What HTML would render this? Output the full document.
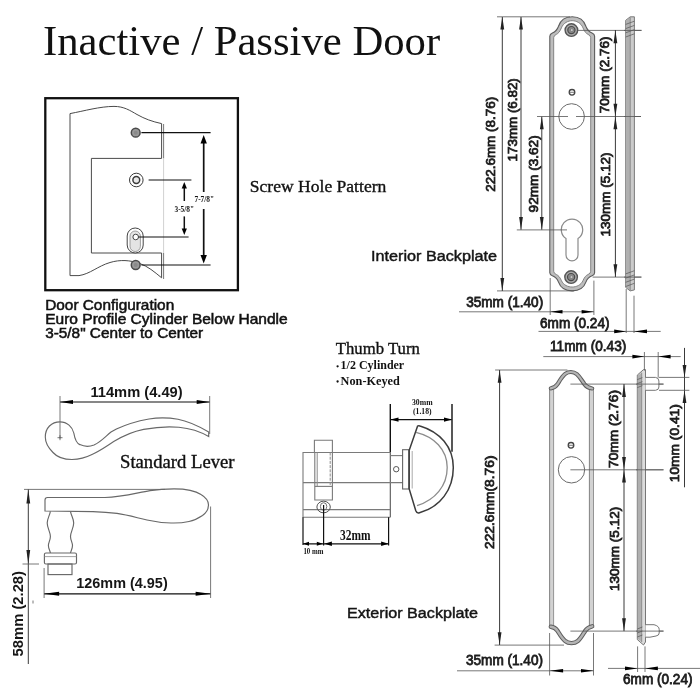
<!DOCTYPE html>
<html><head><meta charset="utf-8">
<style>
html,body{margin:0;padding:0;background:#fff;}
body{width:700px;height:700px;overflow:hidden;}
svg{display:block;filter:blur(0.35px);}
.ser{font-family:"Liberation Serif",serif;fill:#111;}
.sers{font-family:"Liberation Serif",serif;fill:#111;stroke:#111;stroke-width:0.35;}
.serb{font-family:"Liberation Serif",serif;fill:#111;font-weight:bold;}
.san{font-family:"Liberation Sans",sans-serif;fill:#1c1c1c;stroke:#1c1c1c;stroke-width:0.8;}
.sanh{font-family:"Liberation Sans",sans-serif;fill:#111;stroke:#111;stroke-width:0.5;}
.sanm{font-family:"Liberation Sans",sans-serif;fill:#151515;stroke:#151515;stroke-width:0.45;}
.sanb{font-family:"Liberation Sans",sans-serif;font-weight:bold;fill:#161616;}
.ln{stroke:#3a3a3a;stroke-width:1;fill:none;}
.thin{stroke:#555;stroke-width:0.8;fill:none;}
.blk{stroke:#111;stroke-width:1.2;fill:none;}
.pl{stroke:#6e6e6e;stroke-width:1.1;fill:none;}
.pl2{stroke:#8a8a8a;stroke-width:1;fill:none;}
.ar{fill:#222;stroke:none;}
.arb{fill:#000;stroke:none;}
</style></head><body>
<svg width="700" height="700" viewBox="0 0 700 700">
<rect width="700" height="700" fill="#fff"/>
<text class="ser" x="43.0" y="55.0" font-size="42.7" text-anchor="start" >Inactive / Passive Door</text>
<rect x="45.3" y="98.2" width="192.6" height="192" fill="none" stroke="#111" stroke-width="2.3"/>
<path d="M70,113.6 L70,275.6 L79,275.6 C90,274 98,266 110,262.5 C120,259.5 130,260 140,263.6 C148,266.5 154,271.5 161.6,277.8 L161.6,253 L91.4,253 L91.4,158.4 L161.6,158.4 L161.6,123.6 C152,121.5 145,119 137,114.5 C130,110.5 124,106.4 114,106.4 C100,106.4 84,111 70,113.6 Z" fill="none" stroke="#4a4a4a" stroke-width="1"/>
<line class="thin" x1="163.6" y1="124.0" x2="163.6" y2="158.4" />
<line class="thin" x1="163.6" y1="253.0" x2="163.6" y2="279.0" />
<line class="thin" x1="163.6" y1="158.4" x2="163.6" y2="253.0" style="stroke:#c4c4c4"/>
<circle cx="135.7" cy="132.7" r="4.4" fill="#9a9a9a" stroke="#4a4a4a" stroke-width="1.5"/>
<circle cx="135.7" cy="132.7" r="2" fill="#8a8a8a"/>
<circle cx="135.7" cy="265" r="4.4" fill="#9a9a9a" stroke="#4a4a4a" stroke-width="1.5"/>
<circle cx="135.7" cy="265" r="2" fill="#8a8a8a"/>
<circle cx="136.3" cy="180" r="6.8" fill="#fff" stroke="#3a3a3a" stroke-width="1"/>
<circle cx="136.3" cy="180" r="3.4" fill="#e8e8e8" stroke="#3a3a3a" stroke-width="1.5"/>
<rect x="127.2" y="228" width="16" height="25" rx="8" fill="#fff" stroke="#444" stroke-width="1"/>
<rect x="130" y="231" width="10.4" height="20.5" rx="5.2" fill="#e4e4e4" stroke="#888" stroke-width="0.8"/>
<circle cx="135.7" cy="237" r="2.8" fill="#fff" stroke="#444" stroke-width="1"/>
<line class="blk" x1="141.4" y1="132.7" x2="210.6" y2="132.7" />
<line class="blk" x1="141.4" y1="265.0" x2="210.6" y2="265.0" />
<line class="blk" x1="148.6" y1="180.0" x2="191.4" y2="180.0" />
<line class="blk" x1="138.6" y1="237.0" x2="188.6" y2="237.0" />
<line class="blk" x1="203.7" y1="141.0" x2="203.7" y2="192.0" style="stroke-width:1.7"/>
<line class="blk" x1="203.7" y1="209.0" x2="203.7" y2="258.0" style="stroke-width:1.7"/>
<polygon class="arb" points="203.7,135.0 200.5,143.5 206.9,143.5"/>
<polygon class="arb" points="203.7,263.6 200.5,255.1 206.9,255.1"/>
<line class="blk" x1="184.3" y1="187.0" x2="184.3" y2="201.0" style="stroke-width:1.5"/>
<line class="blk" x1="184.3" y1="216.4" x2="184.3" y2="230.0" style="stroke-width:1.5"/>
<polygon class="arb" points="184.3,182.0 181.7,188.5 186.9,188.5"/>
<polygon class="arb" points="184.3,235.0 181.7,228.5 186.9,228.5"/>
<text class="serb" x="204.3" y="202.0" font-size="7.4" text-anchor="middle" >7-7/8"</text>
<text class="serb" x="184.3" y="212.0" font-size="7.4" text-anchor="middle" >3-5/8"</text>
<text class="sers" x="249.8" y="192.4" font-size="17.3" text-anchor="start"  textLength="136.5" lengthAdjust="spacingAndGlyphs">Screw Hole Pattern</text>
<text class="sanh" x="45.2" y="310.3" font-size="14.2" text-anchor="start"  textLength="129.0" lengthAdjust="spacingAndGlyphs">Door Configuration</text>
<text class="sanh" x="45.2" y="323.6" font-size="14.2" text-anchor="start"  textLength="242.5" lengthAdjust="spacingAndGlyphs">Euro Profile Cylinder Below Handle</text>
<text class="sanh" x="45.2" y="337.5" font-size="14.2" text-anchor="start"  textLength="158.0" lengthAdjust="spacingAndGlyphs">3-5/8" Center to Center</text>
<text class="sanm" x="371.0" y="261.4" font-size="15.5" text-anchor="start"  textLength="126.0" lengthAdjust="spacingAndGlyphs">Interior Backplate</text>
<text class="sanm" x="347.0" y="617.5" font-size="15.5" text-anchor="start"  textLength="131.0" lengthAdjust="spacingAndGlyphs">Exterior Backplate</text>
<text class="sers" x="120.0" y="467.5" font-size="17.8" text-anchor="start"  textLength="114.5" lengthAdjust="spacingAndGlyphs">Standard Lever</text>
<text class="sers" x="335.8" y="353.5" font-size="16.4" text-anchor="start"  textLength="84.0" lengthAdjust="spacingAndGlyphs">Thumb Turn</text>
<circle cx="337.6" cy="366.3" r="1.15" fill="#111"/>
<text class="serb" x="340.6" y="369.3" font-size="11.8" text-anchor="start"  textLength="63.6" lengthAdjust="spacingAndGlyphs">1/2 Cylinder</text>
<circle cx="337.6" cy="381.5" r="1.15" fill="#111"/>
<text class="serb" x="340.6" y="384.7" font-size="11.8" text-anchor="start"  textLength="59.2" lengthAdjust="spacingAndGlyphs">Non-Keyed</text>
<path d="M549.8,36.2 Q549.8,34.2 552.4,33.0 C555.0,32.0 557.0,30.4 558.4,26.5 C560.0,21.5 564.3,16.8 572.2,16.8 C580.1,16.8 584.4,21.5 586.0,26.5 C587.4,30.4 589.4,32.0 592.0,33.0 Q594.6,34.2 594.6,36.2 L594.6,272.7 Q594.6,274.7 592.0,275.8 C589.4,276.8 587.4,278.2 586.0,281.9 C584.4,286.5 580.1,290.9 572.2,290.9 C564.3,290.9 560.0,286.5 558.4,281.9 C557.0,278.2 555.0,276.8 552.4,275.8 Q549.8,274.7 549.8,272.7 Z M553.7,37.6 Q553.7,35.6 556.3,34.4 C558.3,33.4 559.8,31.8 561.4,27.9 C563.3,22.9 568.2,20.7 572.2,20.7 C576.2,20.7 581.1,22.9 583.0,27.9 C584.6,31.8 586.1,33.4 588.1,34.4 Q590.7,35.6 590.7,37.6 L590.7,271.3 Q590.7,273.3 588.1,274.5 C586.1,275.4 584.6,276.9 583.0,280.5 C581.1,285.2 576.2,287.0 572.2,287.0 C568.2,287.0 563.3,285.2 561.4,280.5 C559.8,276.9 558.3,275.4 556.3,274.5 Q553.7,273.3 553.7,271.3 Z" fill="#bdbdbd" fill-rule="evenodd" stroke="none"/>
<path d="M549.8,36.2 Q549.8,34.2 552.4,33.0 C555.0,32.0 557.0,30.4 558.4,26.5 C560.0,21.5 564.3,16.8 572.2,16.8 C580.1,16.8 584.4,21.5 586.0,26.5 C587.4,30.4 589.4,32.0 592.0,33.0 Q594.6,34.2 594.6,36.2 L594.6,272.7 Q594.6,274.7 592.0,275.8 C589.4,276.8 587.4,278.2 586.0,281.9 C584.4,286.5 580.1,290.9 572.2,290.9 C564.3,290.9 560.0,286.5 558.4,281.9 C557.0,278.2 555.0,276.8 552.4,275.8 Q549.8,274.7 549.8,272.7 Z" fill="none" stroke="#5c5c5c" stroke-width="1.1"/>
<path d="M553.7,37.6 Q553.7,35.6 556.3,34.4 C558.3,33.4 559.8,31.8 561.4,27.9 C563.3,22.9 568.2,20.7 572.2,20.7 C576.2,20.7 581.1,22.9 583.0,27.9 C584.6,31.8 586.1,33.4 588.1,34.4 Q590.7,35.6 590.7,37.6 L590.7,271.3 Q590.7,273.3 588.1,274.5 C586.1,275.4 584.6,276.9 583.0,280.5 C581.1,285.2 576.2,287.0 572.2,287.0 C568.2,287.0 563.3,285.2 561.4,280.5 C559.8,276.9 558.3,275.4 556.3,274.5 Q553.7,273.3 553.7,271.3 Z" fill="none" stroke="#7a7a7a" stroke-width="0.9"/>
<circle cx="571.4" cy="30.1" r="6.3" fill="#a9a9a9" stroke="#555" stroke-width="1.4"/>
<circle cx="571.4" cy="30.1" r="3.6" fill="#8c8c8c" stroke="#4a4a4a" stroke-width="1.2"/>
<circle cx="571.8" cy="30.1" r="1.5" fill="#c8c8c8" stroke="#666" stroke-width="0.6"/>
<circle cx="571.1" cy="277.1" r="6.3" fill="#a9a9a9" stroke="#555" stroke-width="1.4"/>
<circle cx="571.1" cy="277.1" r="3.6" fill="#8c8c8c" stroke="#4a4a4a" stroke-width="1.2"/>
<circle cx="571.5" cy="277.1" r="1.5" fill="#c8c8c8" stroke="#666" stroke-width="0.6"/>
<circle cx="572" cy="92.3" r="2.8" fill="#fff" stroke="#444" stroke-width="1.3"/>
<line class="thin" x1="569.8" y1="92.3" x2="574.2" y2="92.3" />
<circle cx="571.6" cy="116.5" r="12.8" fill="#fff" stroke="#6a6a6a" stroke-width="1"/>
<path d="M566,238.6 A10.7,10.7 0 1 1 578,238.6 L578,254.9 A6,6 0 0 1 566,254.9 Z" fill="#fff" stroke="#8a8a8a" stroke-width="1.2"/>
<line class="thin" x1="497.0" y1="16.8" x2="570.0" y2="16.8" />
<line class="thin" x1="497.0" y1="290.9" x2="574.0" y2="290.9" />
<line class="ln" x1="502.3" y1="17.0" x2="502.3" y2="291.0" />
<polygon class="ar" points="502.3,16.8 500.4,29.6 504.2,29.6"/>
<polygon class="ar" points="502.3,290.9 500.4,278.1 504.2,278.1"/>
<line class="ln" x1="521.0" y1="17.0" x2="521.0" y2="229.8" />
<polygon class="ar" points="521.0,16.8 519.1,29.6 522.9,29.6"/>
<polygon class="ar" points="521.0,229.8 519.1,217.0 522.9,217.0"/>
<line class="ln" x1="541.8" y1="116.5" x2="541.8" y2="229.8" />
<polygon class="ar" points="541.8,116.5 539.9,129.3 543.7,129.3"/>
<polygon class="ar" points="541.8,229.8 539.9,217.0 543.7,217.0"/>
<line class="thin" x1="537.0" y1="116.5" x2="568.0" y2="116.5" />
<line class="thin" x1="576.0" y1="116.5" x2="641.0" y2="116.5" />
<line class="thin" x1="516.8" y1="229.9" x2="567.0" y2="229.9" />
<line class="thin" x1="577.0" y1="30.4" x2="641.5" y2="30.4" />
<line class="thin" x1="592.6" y1="277.1" x2="641.4" y2="277.1" />
<line class="ln" x1="615.4" y1="30.0" x2="615.4" y2="277.0" />
<polygon class="ar" points="615.4,30.4 613.5,43.2 617.3,43.2"/>
<polygon class="ar" points="615.4,116.5 613.5,103.7 617.3,103.7"/>
<polygon class="ar" points="615.4,116.5 613.5,129.3 617.3,129.3"/>
<polygon class="ar" points="615.4,277.1 613.5,264.3 617.3,264.3"/>
<text class="san" transform="translate(495.4,191.8) rotate(-90)" font-size="13.4" textLength="95.0" lengthAdjust="spacingAndGlyphs" >222.6mm (8.76)</text>
<text class="san" transform="translate(517.4,161.4) rotate(-90)" font-size="13.4" textLength="83.2" lengthAdjust="spacingAndGlyphs" >173mm (6.82)</text>
<text class="san" transform="translate(537.6,212.4) rotate(-90)" font-size="13.4" textLength="77.1" lengthAdjust="spacingAndGlyphs" >92mm (3.62)</text>
<text class="san" transform="translate(609.3,113.2) rotate(-90)" font-size="13.4" textLength="76.7" lengthAdjust="spacingAndGlyphs" >70mm (2.76)</text>
<text class="san" transform="translate(609.7,236.4) rotate(-90)" font-size="13.4" textLength="83.9" lengthAdjust="spacingAndGlyphs" >130mm (5.12)</text>
<path d="M625.7,20.3 L630.2,16.8 L634.4,16.8 L634.4,289.9 L630.2,290.9 L625.7,287.4 Z" fill="#cbcbcb" stroke="#6e6e6e" stroke-width="0.9"/>
<path d="M626.2,20.8 L629.7,17.8 L629.7,289.9 L626.2,286.9 Z" fill="#b0b0b0" stroke="none"/>
<line class="thin" x1="630.2" y1="17.3" x2="630.2" y2="290.4" style="stroke:#777"/>
<line class="thin" x1="625.7" y1="24.4" x2="634.4" y2="21.2" style="stroke:#555;stroke-width:0.7"/>
<line class="thin" x1="625.7" y1="286.5" x2="634.4" y2="283.3" style="stroke:#555;stroke-width:0.7"/>
<line class="thin" x1="625.7" y1="28.6" x2="634.4" y2="25.4" style="stroke:#555;stroke-width:0.7"/>
<line class="thin" x1="625.7" y1="282.3" x2="634.4" y2="279.1" style="stroke:#555;stroke-width:0.7"/>
<line class="thin" x1="625.7" y1="32.8" x2="634.4" y2="29.6" style="stroke:#555;stroke-width:0.7"/>
<line class="thin" x1="625.7" y1="278.1" x2="634.4" y2="274.9" style="stroke:#555;stroke-width:0.7"/>
<line class="thin" x1="625.7" y1="37.0" x2="634.4" y2="33.8" style="stroke:#555;stroke-width:0.7"/>
<line class="thin" x1="625.7" y1="273.9" x2="634.4" y2="270.7" style="stroke:#555;stroke-width:0.7"/>
<line class="thin" x1="626.2" y1="289.0" x2="626.2" y2="333.0" />
<line class="thin" x1="634.0" y1="295.7" x2="634.0" y2="333.0" />
<line class="thin" x1="624.0" y1="30.4" x2="641.5" y2="30.4" />
<line class="thin" x1="624.0" y1="277.1" x2="641.4" y2="277.1" />
<line class="thin" x1="624.0" y1="116.5" x2="641.0" y2="116.5" />
<line class="thin" x1="459.0" y1="311.8" x2="594.0" y2="311.8" />
<line class="thin" x1="550.2" y1="278.0" x2="550.2" y2="315.0" />
<line class="thin" x1="593.9" y1="280.6" x2="593.9" y2="315.0" />
<polygon class="arb" points="550.2,311.8 562.5,310.0 562.5,313.6"/>
<polygon class="arb" points="593.9,311.8 581.6,310.0 581.6,313.6"/>
<text class="san" x="466.2" y="306.6" font-size="14" text-anchor="start"  textLength="77.0" lengthAdjust="spacingAndGlyphs">35mm (1.40)</text>
<line class="thin" x1="538.5" y1="331.4" x2="660.7" y2="331.4" />
<polygon class="arb" points="626.2,331.4 614.2,329.5 614.2,333.3"/>
<polygon class="arb" points="634.0,331.4 647.0,329.5 647.0,333.3"/>
<text class="san" x="540.0" y="327.5" font-size="14" text-anchor="start"  textLength="69.5" lengthAdjust="spacingAndGlyphs">6mm (0.24)</text>
<rect x="549.6" y="388.5" width="4.0" height="237" fill="#d2d2d2" stroke="none"/>
<line class="thin" x1="549.6" y1="388.5" x2="549.6" y2="625.5" style="stroke:#777;stroke-width:0.9"/>
<line class="thin" x1="553.6" y1="388.5" x2="553.6" y2="625.5" style="stroke:#8a8a8a;stroke-width:0.9"/>
<rect x="589.4" y="388.5" width="4.1" height="237" fill="#d2d2d2" stroke="none"/>
<line class="thin" x1="589.4" y1="388.5" x2="589.4" y2="625.5" style="stroke:#777;stroke-width:0.9"/>
<line class="thin" x1="593.5" y1="388.5" x2="593.5" y2="625.5" style="stroke:#8a8a8a;stroke-width:0.9"/>
<path d="M550.8,388.3 C553.5,388 555.8,386.8 557.5,384.2 C560,380.2 562.2,376.2 565.2,373.9 C567,372.5 569,372 570.9,372 C573,372 575,372.6 576.8,374.1 C580,376.8 582,380.8 584.5,384.2 C586.2,386.6 588.8,388 592.2,388.5" fill="none" stroke="#5e5e5e" stroke-width="4.2" stroke-linecap="round"/>
<path d="M550.8,388.3 C553.5,388 555.8,386.8 557.5,384.2 C560,380.2 562.2,376.2 565.2,373.9 C567,372.5 569,372 570.9,372 C573,372 575,372.6 576.8,374.1 C580,376.8 582,380.8 584.5,384.2 C586.2,386.6 588.8,388 592.2,388.5" fill="none" stroke="#b4b4b4" stroke-width="2.2" stroke-linecap="round"/>
<path d="M550.8,626.7 C553.5,627 555.8,628.2 557.5,630.8 C560,634.8 562.2,638.8 565.2,641 C567,642.5 569.3,643.1 571.5,643.1 C573.8,643.1 576,642.5 577.8,641 C581,638.3 583,634.3 585.2,630.8 C586.8,628.4 589,627 592.2,626.3" fill="none" stroke="#5e5e5e" stroke-width="4.4" stroke-linecap="round"/>
<path d="M550.8,626.7 C553.5,627 555.8,628.2 557.5,630.8 C560,634.8 562.2,638.8 565.2,641 C567,642.5 569.3,643.1 571.5,643.1 C573.8,643.1 576,642.5 577.8,641 C581,638.3 583,634.3 585.2,630.8 C586.8,628.4 589,627 592.2,626.3" fill="none" stroke="#b4b4b4" stroke-width="2.4" stroke-linecap="round"/>
<circle cx="571" cy="445.3" r="2.8" fill="#fff" stroke="#444" stroke-width="1.3"/>
<line class="thin" x1="568.8" y1="445.3" x2="573.2" y2="445.3" />
<circle cx="571.5" cy="469.8" r="13.2" fill="#fff" stroke="#6a6a6a" stroke-width="1"/>
<line class="thin" x1="495.1" y1="370.0" x2="567.4" y2="370.0" />
<line class="thin" x1="494.6" y1="645.1" x2="564.0" y2="645.1" />
<line class="ln" x1="499.6" y1="370.0" x2="499.6" y2="645.0" />
<polygon class="ar" points="499.6,370.0 497.7,382.8 501.5,382.8"/>
<polygon class="ar" points="499.6,645.1 497.7,632.3 501.5,632.3"/>
<text class="san" transform="translate(493.7,549.0) rotate(-90)" font-size="13.4" textLength="93.5" lengthAdjust="spacingAndGlyphs" >222.6mm(8.76)</text>
<line class="thin" x1="570.4" y1="384.1" x2="663.5" y2="384.1" />
<line class="thin" x1="570.4" y1="469.8" x2="663.5" y2="469.8" />
<line class="thin" x1="570.4" y1="631.1" x2="663.5" y2="631.1" />
<line class="ln" x1="624.0" y1="384.0" x2="624.0" y2="631.1" />
<polygon class="ar" points="624.0,384.1 622.1,396.9 625.9,396.9"/>
<polygon class="ar" points="624.0,469.8 622.1,457.0 625.9,457.0"/>
<polygon class="ar" points="624.0,469.8 622.1,482.6 625.9,482.6"/>
<polygon class="ar" points="624.0,631.1 622.1,618.3 625.9,618.3"/>
<text class="san" transform="translate(618.2,468.0) rotate(-90)" font-size="13.4" textLength="78.0" lengthAdjust="spacingAndGlyphs" >70mm (2.76)</text>
<text class="san" transform="translate(618.5,591.0) rotate(-90)" font-size="13.4" textLength="84.2" lengthAdjust="spacingAndGlyphs" >130mm (5.12)</text>
<path d="M637.3,375.1 L643.5,369.6 L645.5,369.6 L645.5,642.0 L643.5,645.0 L637.3,639.5 Z" fill="#dcdcdc" stroke="#6a6a6a" stroke-width="0.9"/>
<path d="M637.8,375.6 L641.4,373.1 L641.4,641.5 L637.8,639.0 Z" fill="#b0b0b0" stroke="none"/>
<line class="thin" x1="641.7" y1="372.6" x2="641.7" y2="642.0" style="stroke:#777;stroke-width:0.8"/>
<line class="thin" x1="637.3" y1="379.6" x2="642.4" y2="377.6" style="stroke:#555;stroke-width:0.7"/>
<line class="thin" x1="637.3" y1="637.0" x2="642.4" y2="635.0" style="stroke:#555;stroke-width:0.7"/>
<line class="thin" x1="637.3" y1="383.6" x2="642.4" y2="381.6" style="stroke:#555;stroke-width:0.7"/>
<line class="thin" x1="637.3" y1="633.0" x2="642.4" y2="631.0" style="stroke:#555;stroke-width:0.7"/>
<line class="thin" x1="637.3" y1="387.6" x2="642.4" y2="385.6" style="stroke:#555;stroke-width:0.7"/>
<line class="thin" x1="637.3" y1="629.0" x2="642.4" y2="627.0" style="stroke:#555;stroke-width:0.7"/>
<path d="M645.5,377.4 L655.5,377.4 Q658.9,377.8 658.9,381 L658.9,387 Q658.9,390 655.5,390.3 L645.5,390.3" fill="#fff" stroke="#666" stroke-width="0.9"/>
<path d="M645.5,624.7 L654,624.7 Q659.2,626 659.2,629.5 L659.2,633 Q659.2,635.5 656,636 L650,637.2 L645.5,637.2" fill="#fff" stroke="#666" stroke-width="0.9"/>
<line class="thin" x1="636.0" y1="384.1" x2="663.5" y2="384.1" />
<line class="thin" x1="636.0" y1="631.1" x2="663.5" y2="631.1" />
<line class="thin" x1="636.0" y1="469.8" x2="663.5" y2="469.8" />
<text class="san" x="550.0" y="351.2" font-size="14" text-anchor="start"  textLength="76.3" lengthAdjust="spacingAndGlyphs">11mm (0.43)</text>
<line class="thin" x1="543.3" y1="356.6" x2="680.7" y2="356.6" />
<line class="thin" x1="644.4" y1="352.0" x2="644.4" y2="370.6" />
<line class="thin" x1="658.2" y1="352.0" x2="658.2" y2="377.7" />
<polygon class="arb" points="644.4,356.6 632.4,354.7 632.4,358.5"/>
<polygon class="arb" points="658.2,356.6 670.6,354.7 670.6,358.5"/>
<line class="ln" x1="684.5" y1="347.9" x2="684.5" y2="487.3" />
<line class="thin" x1="659.0" y1="377.4" x2="689.4" y2="377.4" />
<line class="thin" x1="659.0" y1="390.3" x2="689.4" y2="390.3" />
<polygon class="ar" points="684.5,377.7 682.6,364.9 686.4,364.9"/>
<polygon class="ar" points="684.5,390.2 682.6,403.0 686.4,403.0"/>
<text class="san" transform="translate(678.8,482.2) rotate(-90)" font-size="13.4" textLength="78.0" lengthAdjust="spacingAndGlyphs" >10mm (0.41)</text>
<line class="thin" x1="457.0" y1="670.8" x2="593.5" y2="670.8" />
<line class="thin" x1="549.6" y1="633.0" x2="549.6" y2="675.5" />
<line class="thin" x1="593.5" y1="633.0" x2="593.5" y2="675.5" />
<polygon class="arb" points="549.6,670.8 563.1,669.0 563.1,672.6"/>
<polygon class="arb" points="593.5,670.8 581.0,669.0 581.0,672.6"/>
<text class="san" x="466.0" y="665.3" font-size="14" text-anchor="start"  textLength="77.0" lengthAdjust="spacingAndGlyphs">35mm (1.40)</text>
<line class="thin" x1="608.0" y1="668.4" x2="700.0" y2="668.4" />
<line class="thin" x1="637.6" y1="646.4" x2="637.6" y2="672.0" />
<line class="thin" x1="645.0" y1="646.4" x2="645.0" y2="672.0" />
<polygon class="arb" points="637.6,668.4 625.0,666.5 625.0,670.3"/>
<polygon class="arb" points="645.0,668.4 657.9,666.5 657.9,670.3"/>
<text class="san" x="623.0" y="683.8" font-size="14" text-anchor="start"  textLength="69.5" lengthAdjust="spacingAndGlyphs">6mm (0.24)</text>
<line class="blk" x1="390.3" y1="404.0" x2="390.3" y2="452.5" style="stroke-width:1.4"/>
<line class="blk" x1="452.0" y1="404.0" x2="452.0" y2="451.7" style="stroke-width:1.4"/>
<line class="thin" x1="390.3" y1="452.5" x2="390.3" y2="517.3" style="stroke:#555;stroke-width:1.1"/>
<line class="blk" x1="391.0" y1="419.6" x2="451.5" y2="419.6" style="stroke-width:1.3"/>
<polygon class="arb" points="390.5,419.6 398.5,417.5 398.5,421.7"/>
<polygon class="arb" points="452.0,419.6 444.0,417.5 444.0,421.7"/>
<text class="serb" x="422.3" y="405.2" font-size="7.2" text-anchor="middle"  textLength="20.6" lengthAdjust="spacingAndGlyphs">30mm</text>
<text class="serb" x="422.3" y="413.8" font-size="7.2" text-anchor="middle"  textLength="18.5" lengthAdjust="spacingAndGlyphs">(1.18)</text>
<path class="thin" d="M390.3,452.5 L303,452.5 L303,517.3 L390.3,517.3" style="stroke:#7a7a7a;stroke-width:1.1"/>
<line class="thin" x1="303.0" y1="482.6" x2="403.0" y2="482.6" style="stroke:#7a7a7a;stroke-width:1.1"/>
<line class="thin" x1="303.0" y1="509.6" x2="390.0" y2="509.6" style="stroke:#7a7a7a;stroke-width:1.1"/>
<path class="thin" d="M314.4,452.5 L314.4,440.2 L332.4,440.2 L332.4,452.5" style="stroke:#7a7a7a;stroke-width:1.1"/>
<path class="thin" d="M314.8,452.5 L314.8,500 L332.4,500 L332.4,452.5" fill="#fff" style="stroke:#7a7a7a;stroke-width:1.1"/>
<line class="pl2" x1="317.2" y1="452.5" x2="317.2" y2="486.4" />
<line class="pl2" x1="330.2" y1="452.5" x2="330.2" y2="486.4" style="stroke-dasharray:3 1.2"/>
<line class="thin" x1="314.8" y1="486.4" x2="332.4" y2="486.4" style="stroke:#7a7a7a;stroke-width:1.1"/>
<ellipse class="thin" cx="323.6" cy="507" rx="6.7" ry="5.8" style="stroke:#555;stroke-width:1"/>
<ellipse class="thin" cx="323.6" cy="506.5" rx="3.2" ry="3.8" style="stroke:#666;stroke-width:0.9"/>
<line class="blk" x1="323.6" y1="505.0" x2="323.6" y2="545.6" style="stroke-width:1.2"/>
<line class="blk" x1="303.0" y1="517.3" x2="303.0" y2="545.0" style="stroke-width:1.2"/>
<line class="blk" x1="388.6" y1="517.3" x2="388.6" y2="545.6" style="stroke-width:1.2"/>
<line class="blk" x1="303.0" y1="543.8" x2="388.6" y2="543.8" style="stroke-width:1.2"/>
<polygon class="arb" points="303.0,543.8 309.0,541.8 309.0,545.8"/>
<polygon class="arb" points="322.8,543.8 316.8,541.8 316.8,545.8"/>
<polygon class="arb" points="324.4,543.8 331.9,541.6 331.9,546.0"/>
<polygon class="arb" points="388.6,543.8 381.1,541.6 381.1,546.0"/>
<text class="serb" x="355.2" y="539.6" font-size="13.6" text-anchor="middle"  textLength="30.5" lengthAdjust="spacingAndGlyphs">32mm</text>
<text class="serb" x="313.4" y="554.2" font-size="7.2" text-anchor="middle"  textLength="20.0" lengthAdjust="spacingAndGlyphs">10 mm</text>
<path class="thin" d="M390.3,455.6 L403,455.6" style="stroke:#7a7a7a;stroke-width:1.1"/>
<circle class="thin" cx="396.2" cy="469.2" r="2.7" style="stroke:#555;stroke-width:1"/>
<rect class="thin" x="402.6" y="449.7" width="6.2" height="39.3" style="stroke:#666;stroke-width:1.1"/>
<path d="M417.6,426 L409.2,450.3 L409.2,489 L415.8,510.8 Q416.8,513.6 419.5,512.8 C440,507 453.3,490 453.3,467.5 C453.3,447 440,432 420,426 Q418.3,425.4 417.6,426 Z" fill="#fff" stroke="#3c3c3c" stroke-width="1.5"/>
<path d="M416,432.3 C434,436.5 447.2,449.5 447.2,467.5 C447.2,486 435,500 417,505.7" fill="none" stroke="#8c8c8c" stroke-width="1.3"/>
<line class="pl2" x1="412.2" y1="451.0" x2="412.2" y2="488.5" style="stroke:#aaa"/>
<text class="sanb" x="90.4" y="396.9" font-size="14.4" text-anchor="start"  textLength="92.3" lengthAdjust="spacingAndGlyphs">114mm (4.49)</text>
<line class="blk" x1="60.0" y1="402.0" x2="209.7" y2="402.0" />
<line class="thin" x1="60.0" y1="396.0" x2="60.0" y2="438.6" />
<line class="thin" x1="209.7" y1="396.0" x2="209.7" y2="434.0" />
<polygon class="arb" points="60.0,402.0 73.0,400.1 73.0,403.9"/>
<polygon class="arb" points="209.7,402.0 196.7,400.1 196.7,403.9"/>
<path d="M60,421.8 C67,421.8 72.5,427 73.8,433 C75,440 77,443.5 79.8,444.6 C84,446.6 89,447 94,445 C101,442 106,436 111,432 L116.4,429 C125,425 138,421 149,419 C158,417.5 168,417.5 178,419.3 C190,421.5 200,427 208.7,432 L208.7,436.6 C200,431.5 192,428.5 178.9,427.3 C168,426.3 155,427.3 143.6,429.4 C133,431.5 122,436.5 113.7,441.6 C106,446.5 100,451 92,454.5 C86,457.5 80,459.3 72,459.5 C64,459.5 57,457 53,452.5 C48,447.5 45.3,442 45.3,437 C45.3,428 51.5,421.8 60,421.8 Z" fill="none" stroke="#686868" stroke-width="1.15"/>
<line class="thin" x1="57.5" y1="437.7" x2="62.5" y2="437.7" />
<line class="thin" x1="60.0" y1="435.2" x2="60.0" y2="440.2" />
<line class="thin" x1="24.0" y1="489.4" x2="165.0" y2="489.4" />
<line class="ln" x1="28.3" y1="489.4" x2="28.3" y2="664.0" />
<polygon class="ar" points="28.3,489.4 26.4,503.4 30.2,503.4"/>
<polygon class="ar" points="28.3,564.0 26.4,550.0 30.2,550.0"/>
<line class="thin" x1="22.5" y1="564.0" x2="39.0" y2="564.0" />
<text class="sanb" transform="translate(22.6,656.4) rotate(-90)" font-size="14.4" textLength="85.4" lengthAdjust="spacingAndGlyphs" >58mm (2.28)</text>
<path d="M45,500 Q45,497.5 47.5,497.5 L105,497.5 C122,497 136,493 150,490.6 C158,489.3 166,488.8 174,488.8 C186,488.8 196,491 201,494.5 C206,497.5 208.5,501 208.5,505 C208.5,509.5 206,513 202.5,515.5 C198,518.5 194,520.5 189,521.5 C183,522.8 177,523.2 171,523 C163,522.8 155,521.8 147,520 C136,517.5 128,515 117,513.4 C108,512.2 100,511.8 93,511.6 L45,511 Z" fill="none" stroke="#686868" stroke-width="1.15"/>
<path d="M50.4,511.3 C49.5,516 47.2,519 47.2,523 C47.2,528 50.4,532 50.4,536.5 C50.4,540 48.4,542.5 48.4,545.5 C48.4,548.5 50,550.5 50.4,553 M70.5,511.6 C71.4,516 73.7,519 73.7,523 C73.7,528 70.5,532 70.5,536.5 C70.5,540 72.5,542.5 72.5,545.5 C72.5,548.5 71,550.5 70.5,553" fill="none" stroke="#686868" stroke-width="1.15"/>
<rect x="44.4" y="553" width="32.1" height="11" rx="1.5" fill="none" stroke="#686868" stroke-width="1.15"/>
<line class="thin" x1="44.4" y1="556.6" x2="76.5" y2="556.6" style="stroke:#8a8a8a"/>
<rect x="48" y="564" width="24" height="10.6" fill="none" stroke="#686868" stroke-width="1.15"/>
<line class="blk" x1="44.1" y1="593.8" x2="210.6" y2="593.8" />
<line class="thin" x1="44.1" y1="568.0" x2="44.1" y2="598.0" />
<line class="thin" x1="210.6" y1="506.5" x2="210.6" y2="598.0" />
<polygon class="arb" points="44.1,593.8 59.1,591.8 59.1,595.8"/>
<polygon class="arb" points="210.6,593.8 195.6,591.8 195.6,595.8"/>
<text class="sanb" x="76.3" y="588.3" font-size="14.4" text-anchor="start"  textLength="91.4" lengthAdjust="spacingAndGlyphs">126mm (4.95)</text>
<line class="thin" x1="33.0" y1="600.5" x2="33.0" y2="603.5" />
</svg>
</body></html>
